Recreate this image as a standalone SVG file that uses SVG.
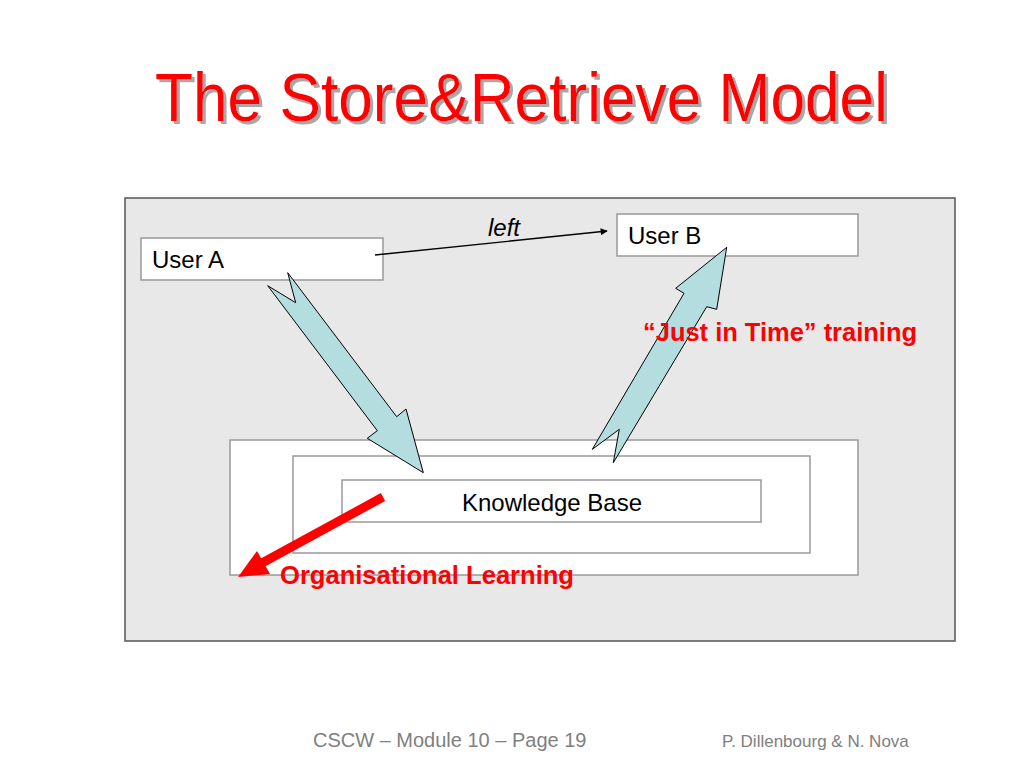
<svg xmlns="http://www.w3.org/2000/svg" width="1024" height="768" viewBox="0 0 1024 768">
  <style>
    .box { fill: #ffffff; stroke: #999999; stroke-width: 1.5; }
    .lbl { font-family: "Liberation Sans", Arial, sans-serif; font-size: 24px; fill: #000000; }
    .red { font-family: "Liberation Sans", Arial, sans-serif; font-size: 25px; font-weight: bold; fill: #ff0000; }
    .foot { font-family: "Liberation Sans", Arial, sans-serif; fill: #808080; }
    .big { fill: #b4dde0; stroke: #000000; stroke-width: 1; stroke-linejoin: miter; }
  </style>
  <defs>
    <marker id="ah" viewBox="0 0 10 10" refX="9" refY="5" markerWidth="9" markerHeight="7" markerUnits="userSpaceOnUse" orient="auto">
      <path d="M0,0 L10,5 L0,10 z" fill="#000000"/>
    </marker>
    <filter id="shadow" x="-5%" y="-20%" width="110%" height="140%">
      <feOffset in="SourceAlpha" dx="3" dy="3" result="off"/>
      <feFlood flood-color="#a8a8a8"/>
      <feComposite in2="off" operator="in" result="sh"/>
      <feMerge><feMergeNode in="sh"/><feMergeNode in="SourceGraphic"/></feMerge>
    </filter>
  </defs>
  <rect width="1024" height="768" fill="#ffffff"/>

  <g id="title">
    <text x="155" y="121" font-family="Liberation Sans, Arial, sans-serif" font-size="68" fill="#ff0000" textLength="733" lengthAdjust="spacingAndGlyphs" filter="url(#shadow)">The Store&amp;Retrieve Model</text>
  </g>

  <g id="panel">
    <rect x="125" y="198" width="830" height="443" fill="#e8e8e8" stroke="#555555" stroke-width="1.5"/>
  </g>

  <g id="org-box">
    <rect class="box" x="230" y="440" width="628" height="135"/>
  </g>
  <g id="mid-box">
    <rect class="box" x="293" y="456" width="517" height="97"/>
  </g>
  <g id="knowledge-base">
    <rect class="box" x="342" y="480" width="419" height="42"/>
    <text class="lbl" x="552" y="511" text-anchor="middle">Knowledge Base</text>
  </g>

  <g id="user-a">
    <rect class="box" x="141" y="238" width="242" height="42"/>
    <text class="lbl" x="152" y="268">User A</text>
  </g>
  <g id="user-b">
    <rect class="box" x="617" y="214" width="241" height="42"/>
    <text class="lbl" x="628" y="244">User B</text>
  </g>

  <g id="connectors">
    <line x1="375" y1="255" x2="607" y2="231" stroke="#000000" stroke-width="1.3" marker-end="url(#ah)"/>
    <text x="488" y="236" font-family="Liberation Sans, Arial, sans-serif" font-size="24" font-style="italic" fill="#000000">left</text>

    <polygon class="big" points="267.7,285.7 295.7,302.7 287.7,272.7 396.7,416.7 406,409 423.3,472.7 367.3,438.3 377.3,430.7"/>
    <polygon class="big" points="726.7,247.3 675.7,288.3 684,293.3 592.3,449.3 619.3,429.3 613.3,462.7 706.7,306.7 716.7,309.3"/>

    <line x1="383" y1="497" x2="262" y2="563" stroke="#ff0000" stroke-width="9"/>
    <polygon points="238,577 270,574 257,551" fill="#ff0000"/>
  </g>

  <g id="labels">
    <text class="red" x="643" y="341" textLength="274" lengthAdjust="spacingAndGlyphs">“Just in Time” training</text>
    <text class="red" x="280" y="584" textLength="294" lengthAdjust="spacingAndGlyphs">Organisational Learning</text>
  </g>

  <g id="footer">
    <text class="foot" x="313" y="747" font-size="20">CSCW – Module 10 – Page 19</text>
    <text class="foot" x="722" y="747" font-size="17">P. Dillenbourg &amp; N. Nova</text>
  </g>
</svg>
